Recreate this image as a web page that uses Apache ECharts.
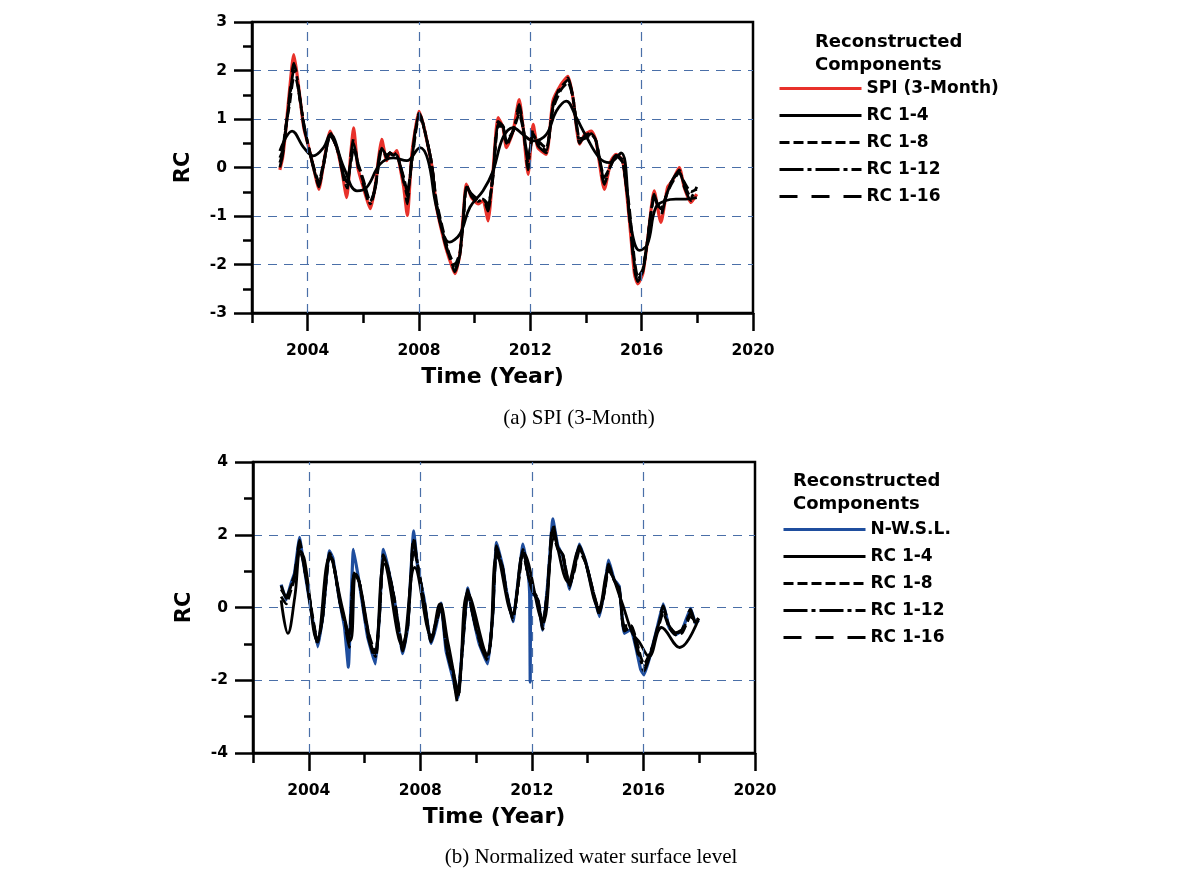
<!DOCTYPE html>
<html>
<head>
<meta charset="utf-8">
<script src="https://cdn.jsdelivr.net/npm/echarts@6/dist/echarts.min.js"></script>
<style>
html,body{margin:0;padding:0;background:#fff;}
#chart{width:1192px;height:883px;}
</style>
</head>
<body>
<div id="chart"></div>
<script>
// ---------- Panel (a): SPI (3-Month) ----------
const spiT = [
  2003.0, 2003.1, 2003.2, 2003.35, 2003.5, 2003.6, 2003.68, 2003.86,
  2004.0, 2004.1, 2004.25, 2004.4, 2004.57, 2004.81, 2004.95,
  2005.05, 2005.23, 2005.4, 2005.55, 2005.65, 2005.8,
  2006.0, 2006.25, 2006.42, 2006.55, 2006.66, 2006.84, 2006.95,
  2007.08, 2007.2, 2007.32, 2007.45, 2007.58, 2007.74, 2007.9,
  2008.0, 2008.1, 2008.21, 2008.45, 2008.63, 2008.93,
  2009.1, 2009.29, 2009.47, 2009.6, 2009.7, 2009.89,
  2010.13, 2010.3, 2010.48, 2010.66, 2010.84,
  2011.02, 2011.14, 2011.38, 2011.6, 2011.74, 2011.92,
  2012.1, 2012.27, 2012.57, 2012.81,
  2013.1, 2013.35, 2013.53, 2013.77, 2013.95,
  2014.19, 2014.36, 2014.66, 2014.9,
  2015.08, 2015.32, 2015.56, 2015.74, 2015.86,
  2016.04, 2016.21, 2016.45, 2016.69, 2016.93,
  2017.11, 2017.35, 2017.53, 2017.77, 2017.98
];
const spiV = [
  -0.05, 0.2, 0.7, 1.6, 2.33, 2.0, 1.64, 0.82,
  0.5, 0.27, -0.1, -0.45, 0.07, 0.75, 0.55,
  0.41, -0.07, -0.62, 0.3, 0.82, 0.0,
  -0.41, -0.85, -0.41, 0.2, 0.58, 0.14, 0.3,
  0.27, 0.35, 0.0, -0.4, -0.99, 0.27, 0.9,
  1.16, 1.0, 0.75, 0.07, -0.82, -1.58,
  -1.9, -2.19, -1.78, -0.9, -0.34, -0.62,
  -0.75, -0.68, -1.1, -0.07, 1.03,
  0.82, 0.41, 0.75, 1.4, 0.82, -0.14,
  0.89, 0.41, 0.27, 1.37,
  1.71, 1.88, 1.44, 0.48, 0.68,
  0.75, 0.55, -0.45, 0.14,
  0.27, 0.14, -1.1, -2.19, -2.4,
  -2.19, -1.51, -0.48, -1.13, -0.41,
  -0.27, 0.0, -0.41, -0.72, -0.55
];
const aRC16 = [
  0.0, 0.25, 0.7, 1.5, 2.15, 1.95, 1.6, 0.85,
  0.5, 0.27, -0.1, -0.4, 0.05, 0.72, 0.55,
  0.4, -0.05, -0.5, 0.25, 0.6, 0.05,
  -0.35, -0.8, -0.4, 0.15, 0.45, 0.2, 0.3,
  0.25, 0.3, 0.05, -0.3, -0.75, 0.2, 0.9,
  1.12, 1.0, 0.75, 0.1, -0.78, -1.55,
  -1.85, -2.15, -1.8, -0.95, -0.35, -0.6,
  -0.72, -0.65, -0.9, -0.1, 0.95,
  0.85, 0.45, 0.75, 1.3, 0.85, -0.05,
  0.8, 0.45, 0.3, 1.3,
  1.7, 1.85, 1.45, 0.5, 0.65,
  0.72, 0.55, -0.35, 0.1,
  0.25, 0.15, -1.0, -2.1, -2.35,
  -2.15, -1.5, -0.55, -1.0, -0.45,
  -0.25, -0.05, -0.4, -0.68, -0.65
];
const aRC12 = [
  0.1, 0.3, 0.75, 1.4, 2.0, 1.9, 1.6, 0.9,
  0.5, 0.25, -0.1, -0.35, 0.05, 0.7, 0.55,
  0.4, 0.0, -0.4, 0.15, 0.5, 0.1,
  -0.3, -0.75, -0.45, 0.1, 0.4, 0.25, 0.3,
  0.25, 0.25, 0.05, -0.25, -0.6, 0.15, 0.85,
  1.1, 1.0, 0.75, 0.1, -0.75, -1.5,
  -1.85, -2.1, -1.8, -1.0, -0.4, -0.55,
  -0.7, -0.65, -0.8, -0.15, 0.9,
  0.85, 0.5, 0.75, 1.2, 0.85, 0.1,
  0.7, 0.5, 0.35, 1.25,
  1.65, 1.8, 1.45, 0.55, 0.6,
  0.7, 0.55, -0.25, 0.05,
  0.25, 0.1, -0.95, -2.0, -2.3,
  -2.15, -1.5, -0.6, -0.9, -0.5,
  -0.25, -0.1, -0.35, -0.62, -0.4
];
const aRC8 = [
  0.2, 0.35, 0.8, 1.3, 1.85, 1.8, 1.55, 0.9,
  0.5, 0.25, -0.05, -0.3, 0.1, 0.65, 0.55,
  0.4, 0.05, -0.3, 0.1, 0.4, 0.1,
  -0.25, -0.7, -0.45, 0.05, 0.35, 0.25, 0.3,
  0.25, 0.25, 0.05, -0.2, -0.5, 0.1, 0.8,
  1.05, 0.95, 0.75, 0.1, -0.7, -1.45,
  -1.8, -2.0, -1.75, -1.05, -0.45, -0.55,
  -0.65, -0.65, -0.75, -0.2, 0.85,
  0.85, 0.55, 0.75, 1.1, 0.8, 0.2,
  0.65, 0.55, 0.4, 1.2,
  1.6, 1.75, 1.45, 0.6, 0.6,
  0.68, 0.55, -0.2, 0.05,
  0.25, 0.1, -0.85, -1.9, -2.25,
  -2.1, -1.5, -0.65, -0.85, -0.5,
  -0.3, -0.1, -0.3, -0.5, -0.45
];
const aRC4T = [
  2003.0, 2003.44, 2003.86, 2004.2, 2004.57, 2004.81, 2005.3, 2005.77, 2006.12, 2006.6,
  2007.08, 2007.56, 2008.04, 2008.33, 2008.63, 2009.1, 2009.47, 2009.83, 2010.3, 2010.66,
  2011.02, 2011.38, 2011.74, 2012.1, 2012.57, 2012.93, 2013.29, 2013.65, 2014.0, 2014.48,
  2014.84, 2015.26, 2015.62, 2015.92, 2016.21, 2016.51, 2016.87, 2017.23, 2017.59, 2017.98
];
const aRC4V = [
  0.34, 0.75, 0.41, 0.24, 0.41, 0.68, 0.0, -0.48, -0.41, 0.07,
  0.2, 0.14, 0.41, 0.14, -0.82, -1.54, -1.37, -0.82, -0.48, -0.07,
  0.62, 0.82, 0.68, 0.55, 0.68, 1.16, 1.37, 1.03, 0.65, 0.2,
  0.1, 0.3, -1.23, -1.71, -1.58, -0.82, -0.68, -0.65, -0.65, -0.62
];

// ---------- Panel (b): Normalized water surface level ----------
const wslT = [
  2003.01, 2003.19, 2003.37, 2003.49, 2003.67, 2003.79,
  2004.02, 2004.32, 2004.5, 2004.74, 2004.86,
  2005.1, 2005.28, 2005.42, 2005.6, 2005.81,
  2006.11, 2006.39, 2006.53, 2006.67, 2006.83,
  2007.07, 2007.37, 2007.55, 2007.76, 2007.9,
  2008.14, 2008.38, 2008.56, 2008.74, 2008.92,
  2009.16, 2009.34, 2009.52, 2009.7, 2009.87,
  2010.11, 2010.41, 2010.59, 2010.73, 2010.95,
  2011.08, 2011.32, 2011.5, 2011.68, 2011.86, 2011.92, 2011.94, 2011.97,
  2012.21, 2012.39, 2012.57, 2012.75, 2012.93,
  2013.11, 2013.35, 2013.52, 2013.7, 2013.94,
  2014.18, 2014.42, 2014.6, 2014.75, 2014.95,
  2015.13, 2015.31, 2015.55, 2015.73, 2015.9,
  2016.02, 2016.26, 2016.5, 2016.71, 2016.92,
  2017.15, 2017.39, 2017.69, 2017.87, 2017.98
];
const wslV = [
  0.63, 0.21, 0.68, 0.95, 1.93, 1.32,
  0.21, -1.08, -0.25, 1.56, 1.37,
  0.21, -0.53, -1.64, 1.6, 0.68,
  -0.81, -1.55, -0.25, 1.6, 1.14,
  0.21, -1.27, -0.53, 2.11, 1.14,
  0.21, -0.99, -0.53, 0.12, -1.18,
  -1.92, -2.5, -0.99, 0.54, -0.16,
  -0.99, -1.55, -0.25, 1.79, 1.14,
  0.49, -0.39, 0.68, 1.74, 0.95, 0.4, -2.05, 0.45,
  0.21, -0.62, 0.68, 2.44, 1.69,
  1.42, 0.5, 1.14, 1.74, 1.23,
  0.45, -0.25, 0.49, 1.3, 0.77,
  0.58, -0.71, -0.6, -1.1, -1.7,
  -1.85, -1.27, -0.53, 0.1, -0.55,
  -0.75, -0.62, -0.02, -0.44, -0.35
];
const bT = [
  2003.01, 2003.19, 2003.37, 2003.49, 2003.67, 2003.79,
  2004.02, 2004.32, 2004.5, 2004.74, 2004.86,
  2005.1, 2005.3, 2005.45, 2005.62, 2005.81,
  2006.11, 2006.39, 2006.53, 2006.67, 2006.83,
  2007.07, 2007.37, 2007.55, 2007.76, 2007.9,
  2008.14, 2008.38, 2008.56, 2008.74, 2008.92,
  2009.16, 2009.34, 2009.52, 2009.7, 2009.87,
  2010.11, 2010.41, 2010.59, 2010.73, 2010.95,
  2011.08, 2011.32, 2011.5, 2011.68, 2011.86,
  2012.02, 2012.21, 2012.39, 2012.57, 2012.75, 2012.93,
  2013.11, 2013.35, 2013.52, 2013.7, 2013.94,
  2014.18, 2014.42, 2014.6, 2014.75, 2014.95,
  2015.13, 2015.31, 2015.55, 2015.73, 2015.9,
  2016.02, 2016.26, 2016.5, 2016.71, 2016.92,
  2017.15, 2017.39, 2017.69, 2017.87, 2017.98
];
const bRC16 = [
  0.6, 0.25, 0.65, 0.9, 1.85, 1.35,
  0.25, -1.0, -0.25, 1.5, 1.35,
  0.2, -0.5, -1.1, 1.0, 0.7,
  -0.75, -1.45, -0.25, 1.45, 1.1,
  0.2, -1.2, -0.5, 2.0, 1.15,
  0.2, -0.95, -0.5, 0.1, -1.1,
  -1.85, -2.65, -1.0, 0.5, -0.15,
  -0.95, -1.45, -0.25, 1.7, 1.1,
  0.45, -0.35, 0.65, 1.65, 0.9,
  0.45, 0.2, -0.6, 0.65, 2.35, 1.65,
  1.4, 0.55, 1.1, 1.7, 1.2,
  0.5, -0.2, 0.5, 1.2, 0.75,
  0.55, -0.65, -0.55, -1.05, -1.55,
  -1.75, -1.25, -0.55, 0.05, -0.5,
  -0.7, -0.6, -0.05, -0.45, -0.35
];
const bRC12 = [
  0.5, 0.3, 0.6, 0.85, 1.75, 1.35,
  0.25, -0.95, -0.25, 1.45, 1.3,
  0.2, -0.45, -0.95, 0.95, 0.7,
  -0.7, -1.35, -0.25, 1.35, 1.1,
  0.2, -1.15, -0.5, 1.85, 1.2,
  0.15, -0.9, -0.45, 0.05, -1.05,
  -1.8, -2.5, -1.0, 0.45, -0.15,
  -0.9, -1.4, -0.25, 1.6, 1.1,
  0.45, -0.3, 0.6, 1.6, 0.9,
  0.5, 0.2, -0.55, 0.6, 2.2, 1.65,
  1.45, 0.6, 1.05, 1.65, 1.2,
  0.5, -0.15, 0.45, 1.15, 0.75,
  0.5, -0.6, -0.5, -0.95, -1.45,
  -1.65, -1.25, -0.6, -0.05, -0.5,
  -0.7, -0.65, -0.15, -0.4, -0.3
];
const bRC8 = [
  0.3, 0.1, 0.5, 0.8, 1.6, 1.3,
  0.3, -0.9, -0.25, 1.35, 1.3,
  0.25, -0.4, -0.8, 0.9, 0.7,
  -0.6, -1.25, -0.3, 1.2, 1.1,
  0.25, -1.05, -0.5, 1.6, 1.2,
  0.1, -0.85, -0.4, 0.0, -0.95,
  -1.7, -2.35, -1.05, 0.4, -0.15,
  -0.85, -1.35, -0.3, 1.45, 1.1,
  0.45, -0.25, 0.55, 1.5, 0.9,
  0.5, 0.25, -0.45, 0.55, 2.05, 1.6,
  1.45, 0.65, 1.0, 1.55, 1.2,
  0.5, -0.1, 0.4, 1.05, 0.75,
  0.5, -0.5, -0.5, -0.85, -1.35,
  -1.55, -1.2, -0.65, -0.15, -0.55,
  -0.75, -0.7, -0.25, -0.35, -0.3
];
const bRC4T = [
  2003.01, 2003.25, 2003.5, 2003.7, 2003.85, 2004.3, 2004.75, 2005.2, 2005.5, 2005.7,
  2006.35, 2006.7, 2007.35, 2007.8, 2008.4, 2008.7, 2009.0, 2009.35, 2009.7, 2010.4,
  2010.75, 2011.3, 2011.7, 2012.4, 2012.8, 2013.3, 2013.7, 2014.4, 2014.75, 2015.2,
  2015.6, 2015.85, 2016.2, 2016.65, 2017.3, 2017.98
];
const bRC4V = [
  0.2, -0.71, 0.3, 1.55, 1.3, -0.9, 1.4, 0.0, -0.9, 0.9,
  -1.25, 1.2, -1.05, 1.1, -0.8, 0.1, -1.0, -2.2, 0.4, -1.3,
  1.45, -0.2, 1.5, -0.4, 1.9, 0.7, 1.6, 0.0, 1.0, 0.2,
  -0.7, -0.95, -1.35, -0.55, -1.1, -0.3
];

// ---------- Axis ticks / labels ----------
const xMajor = [2004, 2008, 2012, 2016, 2020];
const xMinor = [2002, 2006, 2010, 2014, 2018];
const xGrid = [2004, 2008, 2012, 2016];
const legendNames = ['RC 1-4', 'RC 1-8', 'RC 1-12', 'RC 1-16'];

function pairs(t, v) {
  const n = Math.min(t.length, v.length);
  const out = [];
  for (let i = 0; i < n; i++) out.push([t[i], v[i]]);
  return out;
}

const FONT = '"DejaVu Sans", "Liberation Sans", Arial, sans-serif';
const SERIF = '"Liberation Serif", "Times New Roman", serif';
const GRIDCOL = '#4a6fa8';
const BLACK = '#000';

function mainX(gridIndex) {
  return {
    type: 'value', gridIndex: gridIndex, position: 'bottom',
    min: 2002, max: 2020, interval: 2,
    axisLine: { show: true, onZero: false, lineStyle: { color: BLACK, width: 2.5 } },
    axisTick: { show: true, length: 18, inside: false, customValues: xMajor, lineStyle: { color: BLACK, width: 2.5 } },
    axisLabel: {
      show: true, customValues: xMajor, margin: 30, color: BLACK,
      fontFamily: FONT, fontSize: 15.5, fontWeight: 'bold',
      formatter: function (v) { return (v % 4 === 0) ? String(v) : ''; }
    },
    splitLine: { show: false },
    name: 'Time (Year)', nameLocation: 'middle', nameGap: 53,
    nameTextStyle: { color: BLACK, fontFamily: FONT, fontSize: 22, fontWeight: 'bold', padding: [0, 20, 0, 0] }
  };
}
function minorX(gridIndex) {
  return {
    type: 'value', gridIndex: gridIndex, position: 'bottom',
    min: 2002, max: 2020, interval: 2,
    axisLine: { show: false, onZero: false },
    axisTick: { show: true, length: 10, customValues: xMinor, lineStyle: { color: BLACK, width: 2.5 } },
    axisLabel: { show: false },
    splitLine: { show: false }
  };
}
function yAx(gridIndex, lim, step) {
  return {
    type: 'value', gridIndex: gridIndex,
    min: -lim, max: lim, interval: step,
    axisLine: { show: true, onZero: false, lineStyle: { color: BLACK, width: 2.5 } },
    axisTick: { show: true, length: 18, lineStyle: { color: BLACK, width: 2.5 } },
    minorTick: { show: true, splitNumber: 2, length: 9, lineStyle: { color: BLACK, width: 2.5 } },
    axisLabel: { margin: 25, color: BLACK, fontFamily: FONT, fontSize: 15.5, fontWeight: 'bold' },
    splitLine: { show: true, showMinLine: false, showMaxLine: false, lineStyle: { color: GRIDCOL, width: 1.2, type: [9, 7] } },
    name: 'RC', nameLocation: 'middle', nameGap: 58,
    nameTextStyle: { color: BLACK, fontFamily: FONT, fontSize: 21, fontWeight: 'bold' }
  };
}
function vGrid() {
  return {
    silent: true, symbol: 'none', label: { show: false }, animation: false,
    lineStyle: { color: GRIDCOL, width: 1.2, type: [9, 7] },
    data: xGrid.map(function (x) { return { xAxis: x }; })
  };
}
function lineSeries(name, data, xi, yi, color, width, type, smooth, extra) {
  const s = {
    name: name, type: 'line', xAxisIndex: xi, yAxisIndex: yi,
    data: data, showSymbol: false, symbol: 'none', smooth: smooth,
    lineStyle: { color: color, width: width, type: type },
    itemStyle: { color: color },
    emphasis: { disabled: true }, z: 3
  };
  if (extra) Object.assign(s, extra);
  return s;
}

const DASH8 = [10, 4];
const DASH12 = [24, 4, 4, 4];
const DASH16 = [18, 14];

const series = [
  // panel (a)
  lineSeries('SPI (3-Month)', pairs(spiT, spiV), 0, 0, '#e8312a', 3.2, 'solid', 0.2, { markLine: vGrid(), z: 2 }),
  lineSeries('RC 1-4', pairs(aRC4T, aRC4V), 0, 0, BLACK, 2.8, 'solid', 0.4),
  lineSeries('RC 1-8', pairs(spiT, aRC8), 0, 0, BLACK, 2.8, DASH8, 0.2),
  lineSeries('RC 1-12', pairs(spiT, aRC12), 0, 0, BLACK, 2.8, DASH12, 0.2),
  lineSeries('RC 1-16', pairs(spiT, aRC16), 0, 0, BLACK, 2.8, DASH16, 0.2),
  // panel (b)
  lineSeries('N-W.S.L.', pairs(wslT, wslV), 2, 1, '#1f4e9e', 3.2, 'solid', 0.1, { markLine: vGrid(), z: 2 }),
  lineSeries('RC 1-4', pairs(bRC4T, bRC4V), 2, 1, BLACK, 2.8, 'solid', 0.4),
  lineSeries('RC 1-8', pairs(bT, bRC8), 2, 1, BLACK, 2.8, DASH8, 0.2),
  lineSeries('RC 1-12', pairs(bT, bRC12), 2, 1, BLACK, 2.8, DASH12, 0.2),
  lineSeries('RC 1-16', pairs(bT, bRC16), 2, 1, BLACK, 2.8, DASH16, 0.2)
];

const legendText = { color: BLACK, fontFamily: FONT, fontSize: 17, fontWeight: 'bold' };
const titleText = { color: BLACK, fontFamily: FONT, fontSize: 18, fontWeight: 'bold', lineHeight: 23 };
const legendCommon = {
  orient: 'vertical', padding: 0, itemWidth: 82, itemHeight: 14, itemGap: 10,
  selectedMode: false, textStyle: legendText,
  itemStyle: { opacity: 0 },
  lineStyle: { width: 3 }
};

const option = {
  animation: false,
  backgroundColor: '#fff',
  title: [
    { text: 'Reconstructed\nComponents', left: 815, top: 31, padding: 0, textStyle: titleText },
    { text: 'Reconstructed\nComponents', left: 793, top: 470, padding: 0, textStyle: titleText }
  ],
  legend: [
    Object.assign({}, legendCommon, { left: 778, top: 80, data: ['SPI (3-Month)'].concat(legendNames) }),
    Object.assign({}, legendCommon, { left: 782, top: 521, data: ['N-W.S.L.'].concat(legendNames) })
  ],
  grid: [
    { left: 252, top: 22, width: 501, height: 291, show: true, borderColor: BLACK, borderWidth: 2.5, backgroundColor: 'transparent' },
    { left: 253, top: 462, width: 502, height: 291, show: true, borderColor: BLACK, borderWidth: 2.5, backgroundColor: 'transparent' }
  ],
  xAxis: [mainX(0), minorX(0), mainX(1), minorX(1)],
  yAxis: [yAx(0, 3, 1), yAx(1, 4, 2)],
  graphic: [
    { type: 'text', x: 579, y: 418, style: { text: '(a) SPI (3-Month)', fill: BLACK, font: '21px ' + SERIF, textAlign: 'center', textVerticalAlign: 'middle' } },
    { type: 'text', x: 591, y: 857, style: { text: '(b) Normalized water surface level', fill: BLACK, font: '21px ' + SERIF, textAlign: 'center', textVerticalAlign: 'middle' } }
  ],
  series: series
};

const chart = echarts.init(document.getElementById('chart'), null, { renderer: 'canvas' });
chart.setOption(option);
</script>
</body>
</html>
